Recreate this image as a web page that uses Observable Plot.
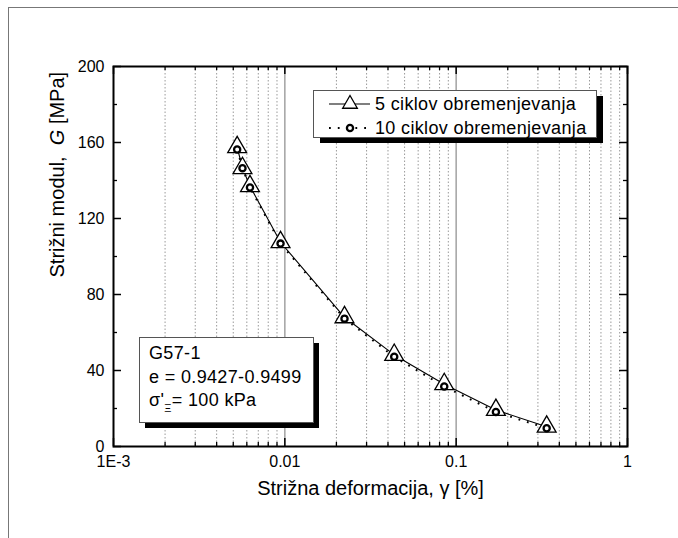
<!DOCTYPE html>
<html><head><meta charset="utf-8">
<script src="https://cdn.jsdelivr.net/npm/d3@7"></script>
<script src="https://cdn.jsdelivr.net/npm/@observablehq/plot@0.6"></script>
<style>
body{margin:0;background:#fff;}
#wrap{position:relative;width:678px;height:538px;overflow:hidden;}
#border{position:absolute;left:8px;top:7px;width:700px;height:600px;border-left:1.5px solid #777;border-top:1.5px solid #777;pointer-events:none;}
</style></head>
<body><div id="wrap"><div id="chart"></div><div id="border"></div></div>
<script>
// --- data ---
const strain = [0.00527, 0.00566, 0.00626, 0.00944, 0.0223, 0.0435, 0.0852, 0.1706, 0.3375];
const modulus5 = [157.5, 146.5, 137.0, 107.5, 68.0, 48.2, 32.8, 19.2, 10.4];
const modulus10 = [156.3, 146.5, 136.3, 106.8, 67.3, 47.2, 31.6, 18.2, 9.6];
const seriesNames = ["5 ciklov obremenjevanja", "10 ciklov obremenjevanja"];

// --- ticks ---
const xMajor = [0.001, 0.01, 0.1, 1];
const xLabels = ["1E-3", "0.01", "0.1", "1"];
const xGridMajor = [0.01, 0.1];
const xMinor = [0.002,0.003,0.004,0.005,0.006,0.007,0.008,0.009,
                0.02,0.03,0.04,0.05,0.06,0.07,0.08,0.09,
                0.2,0.3,0.4,0.5,0.6,0.7,0.8,0.9];
const yMajor = [0, 40, 80, 120, 160, 200];
const yMinor = [20, 60, 100, 140, 180];
const xTitle = "Strižna deformacija, γ [%]";
const yTitle = "Strižni modul,  G [MPa]";
const noteLines = ["G57-1", "e = 0.9427-0.9499"];

const rows5 = strain.map((x, i) => ({x, y: modulus5[i]}));
const rows10 = strain.map((x, i) => ({x, y: modulus10[i]}));

const W = 514, H = 380;
const font = "'Liberation Sans', Arial, Helvetica, sans-serif";

const chart = Plot.plot({
  width: 678, height: 538,
  marginLeft: 113, marginRight: 51, marginTop: 66, marginBottom: 92,
  style: {fontFamily: font, background: "white", color: "black", overflow: "visible"},
  x: {type: "log", domain: [0.001, 1]},
  y: {domain: [0, 200]},
  marks: [
    Plot.ruleX(xMinor, {stroke: "#9a9a9a", strokeWidth: 1, strokeDasharray: "1.5,2"}),
    Plot.ruleX(xGridMajor, {stroke: "#a8a8a8", strokeWidth: 1.6}),
    Plot.line(rows10, {x: "x", y: "y", stroke: "black", strokeWidth: 2, strokeDasharray: "1.8,7", strokeLinecap: "butt"}),
    Plot.line(rows5, {x: "x", y: "y", stroke: "black", strokeWidth: 1.1}),
    Plot.dot(rows5, {x: "x", y: "y", symbol: "triangle", r: 7, stroke: "black", fill: "white", strokeWidth: 1.3}),
    Plot.dot(rows10, {x: "x", y: "y", symbol: "circle", r: 3.1, stroke: "black", fill: "white", strokeWidth: 2.3}),
    // inward ticks on all four sides
    Plot.tickX(xMajor, {x: d => d, insetTop: H - 8, stroke: "black", strokeWidth: 1.5}),
    Plot.tickX(xMajor, {x: d => d, insetBottom: H - 8, stroke: "black", strokeWidth: 1.5}),
    Plot.tickX(xMinor, {x: d => d, insetTop: H - 4, stroke: "black", strokeWidth: 1.3}),
    Plot.tickX(xMinor, {x: d => d, insetBottom: H - 4, stroke: "black", strokeWidth: 1.3}),
    Plot.tickY(yMajor, {y: d => d, insetRight: W - 8, stroke: "black", strokeWidth: 1.5}),
    Plot.tickY(yMajor, {y: d => d, insetLeft: W - 8, stroke: "black", strokeWidth: 1.5}),
    Plot.tickY(yMinor, {y: d => d, insetRight: W - 4, stroke: "black", strokeWidth: 1.3}),
    Plot.tickY(yMinor, {y: d => d, insetLeft: W - 4, stroke: "black", strokeWidth: 1.3}),
    Plot.frame({stroke: "black", strokeWidth: 2}),
    Plot.axisX(xMajor, {tickSize: 0, tickPadding: 9, fontSize: 16, label: null,
      tickFormat: d => xLabels[xMajor.indexOf(d)]}),
    Plot.axisY(yMajor, {tickSize: 0, tickPadding: 9, fontSize: 16, label: null}),
    Plot.text([xTitle], {frameAnchor: "bottom", dy: 48, fontSize: 20, text: d => d}),
    Plot.text([yTitle], {frameAnchor: "left", rotate: -90, dx: -56, dy: 21, fontSize: 20, text: d => d})
  ]
});
document.getElementById("chart").appendChild(chart);

const svg = d3.select(chart);
// italic G in y title
svg.selectAll("text").filter(function() { return this.textContent === yTitle; }).each(function() {
  const t = d3.select(this);
  t.text(null);
  t.append("tspan").text("Strižni modul,  ");
  t.append("tspan").attr("font-style", "italic").text("G");
  t.append("tspan").text(" [MPa]");
});

// legend box
const lg = svg.append("g").attr("font-family", font).attr("font-size", 18).attr("text-anchor", "start").attr("letter-spacing", "0.35px");
lg.append("rect").attr("x", 320).attr("y", 96).attr("width", 283).attr("height", 47).attr("fill", "black");
lg.append("rect").attr("x", 313.5).attr("y", 90.5).attr("width", 283).attr("height", 47).attr("fill", "white").attr("stroke", "#555").attr("stroke-width", 1);
lg.append("line").attr("x1", 329).attr("x2", 370).attr("y1", 104).attr("y2", 104).attr("stroke", "black").attr("stroke-width", 1.1);
lg.append("path").attr("transform", "translate(350,104)")
  .attr("d", d3.symbol(d3.symbolTriangle2, Math.PI * 7 * 7)())
  .attr("fill", "white").attr("stroke", "black").attr("stroke-width", 1.3);
lg.append("line").attr("x1", 329).attr("x2", 370).attr("y1", 128).attr("y2", 128).attr("stroke", "black").attr("stroke-width", 2).attr("stroke-dasharray", "1.8,7");
lg.append("circle").attr("cx", 350).attr("cy", 128).attr("r", 3.1).attr("fill", "white").attr("stroke", "black").attr("stroke-width", 2.3);
lg.append("text").attr("x", 375).attr("y", 104).attr("dy", "0.35em").text(seriesNames[0]);
lg.append("text").attr("x", 375).attr("y", 128).attr("dy", "0.35em").text(seriesNames[1]);

// annotation box
const nb = svg.append("g").attr("font-family", font).attr("font-size", 18).attr("text-anchor", "start").attr("letter-spacing", "0.35px");
nb.append("rect").attr("x", 145).attr("y", 343).attr("width", 174).attr("height", 85).attr("fill", "black");
nb.append("rect").attr("x", 139.5).attr("y", 337.5).attr("width", 174).attr("height", 85).attr("fill", "white").attr("stroke", "#555").attr("stroke-width", 1);
nb.append("text").attr("x", 149).attr("y", 353).attr("dy", "0.35em").text(noteLines[0]);
nb.append("text").attr("x", 149).attr("y", 377).attr("dy", "0.35em").text(noteLines[1]);
const s3 = nb.append("text").attr("x", 149).attr("y", 400).attr("dy", "0.35em");
s3.append("tspan").text("σ'");
s3.append("tspan").attr("font-size", 11).attr("dy", "0.55em").text("Ξ");
s3.append("tspan").attr("dy", "-0.35em").text("= 100 kPa");
</script>
</body></html>
